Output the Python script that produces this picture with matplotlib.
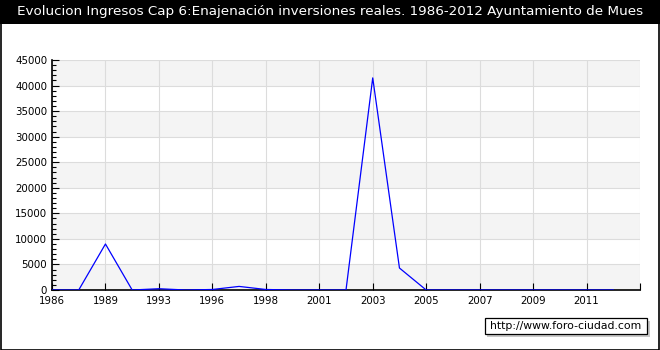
import numpy as np
import matplotlib.pyplot as plt
from matplotlib.patches import Rectangle

# categorias (años con dato) y valores
years = ["1986", "1988", "1989", "1991", "1993", "1995", "1996", "1997", "1998",
         "2000", "2001", "2002", "2003", "2004", "2005", "2006", "2007", "2008",
         "2009", "2010", "2011", "2012"]
ingresos = [0, 0, 9000, 0, 250, 0, 100, 700, 100,
            0, 0, 0, 41500, 4300, 0, 0, 0, 0,
            0, 0, 0, 0]
title = "Evolucion Ingresos Cap 6:Enajenación inversiones reales. 1986-2012 Ayuntamiento de Mues"

fig = plt.figure(figsize=(6.6, 3.5), dpi=100)
fig.patch.set_facecolor("white")

# barra de titulo negra
fig.patches.append(Rectangle((0, 1 - 24/350), 1, 24/350, transform=fig.transFigure,
                             facecolor="black", edgecolor="none", zorder=0))
fig.text(0.5, 1 - 12/350, title, color="white", ha="center", va="center", fontsize=9.7)
# marco exterior
fig.patches.append(Rectangle((0.5/660, 0.5/350), 658.5/660, 348.5/350, transform=fig.transFigure,
                             facecolor="none", edgecolor="black", linewidth=1.2, zorder=5))

ax = fig.add_axes([52/660, 60/350, 588/660, 230/350])
x = np.arange(len(years))
ymax = 45000

# bandas alternas
for y0 in range(0, ymax, 10000):
    ax.axhspan(y0, y0 + 5000, color="#f4f4f4", zorder=0, lw=0)
ax.set_xlim(0, len(years))
ax.set_ylim(0, ymax)
ax.set_xticks(x[::2].tolist() + [len(years)])
ax.set_xticklabels(years[::2] + [""], fontsize=7.4)
ax.set_yticks(range(0, ymax + 1, 5000))
ax.set_yticks(range(0, ymax + 1, 1000), minor=True)
ax.tick_params(axis="y", labelsize=7.4, direction="in", length=5, width=0.8)
ax.tick_params(axis="y", which="minor", direction="in", length=3, width=0.8)
ax.tick_params(axis="x", direction="in", length=5, width=0.8, pad=4)
ax.grid(True, color="#dcdcdc", linewidth=0.8, zorder=1)
ax.set_axisbelow(True)
for s in ["top", "right"]:
    ax.spines[s].set_visible(False)
for s in ["left", "bottom"]:
    ax.spines[s].set_linewidth(1.2)

ax.plot(x, ingresos, color="blue", linewidth=0.9, zorder=3)

# marca de agua
fig.patches.append(Rectangle((487/660, 1 - 337/350), 163/660, 16/350, transform=fig.transFigure,
                             facecolor="#c8c8c8", edgecolor="none", zorder=3))
fig.patches.append(Rectangle((485/660, 1 - 334/350), 162/660, 16/350, transform=fig.transFigure,
                             facecolor="white", edgecolor="black", linewidth=0.9, zorder=4))
fig.text(566/660, 1 - 326/350, "http://www.foro-ciudad.com", ha="center", va="center",
         fontsize=7.8, zorder=6)

fig.savefig("out.png", dpi=100)
